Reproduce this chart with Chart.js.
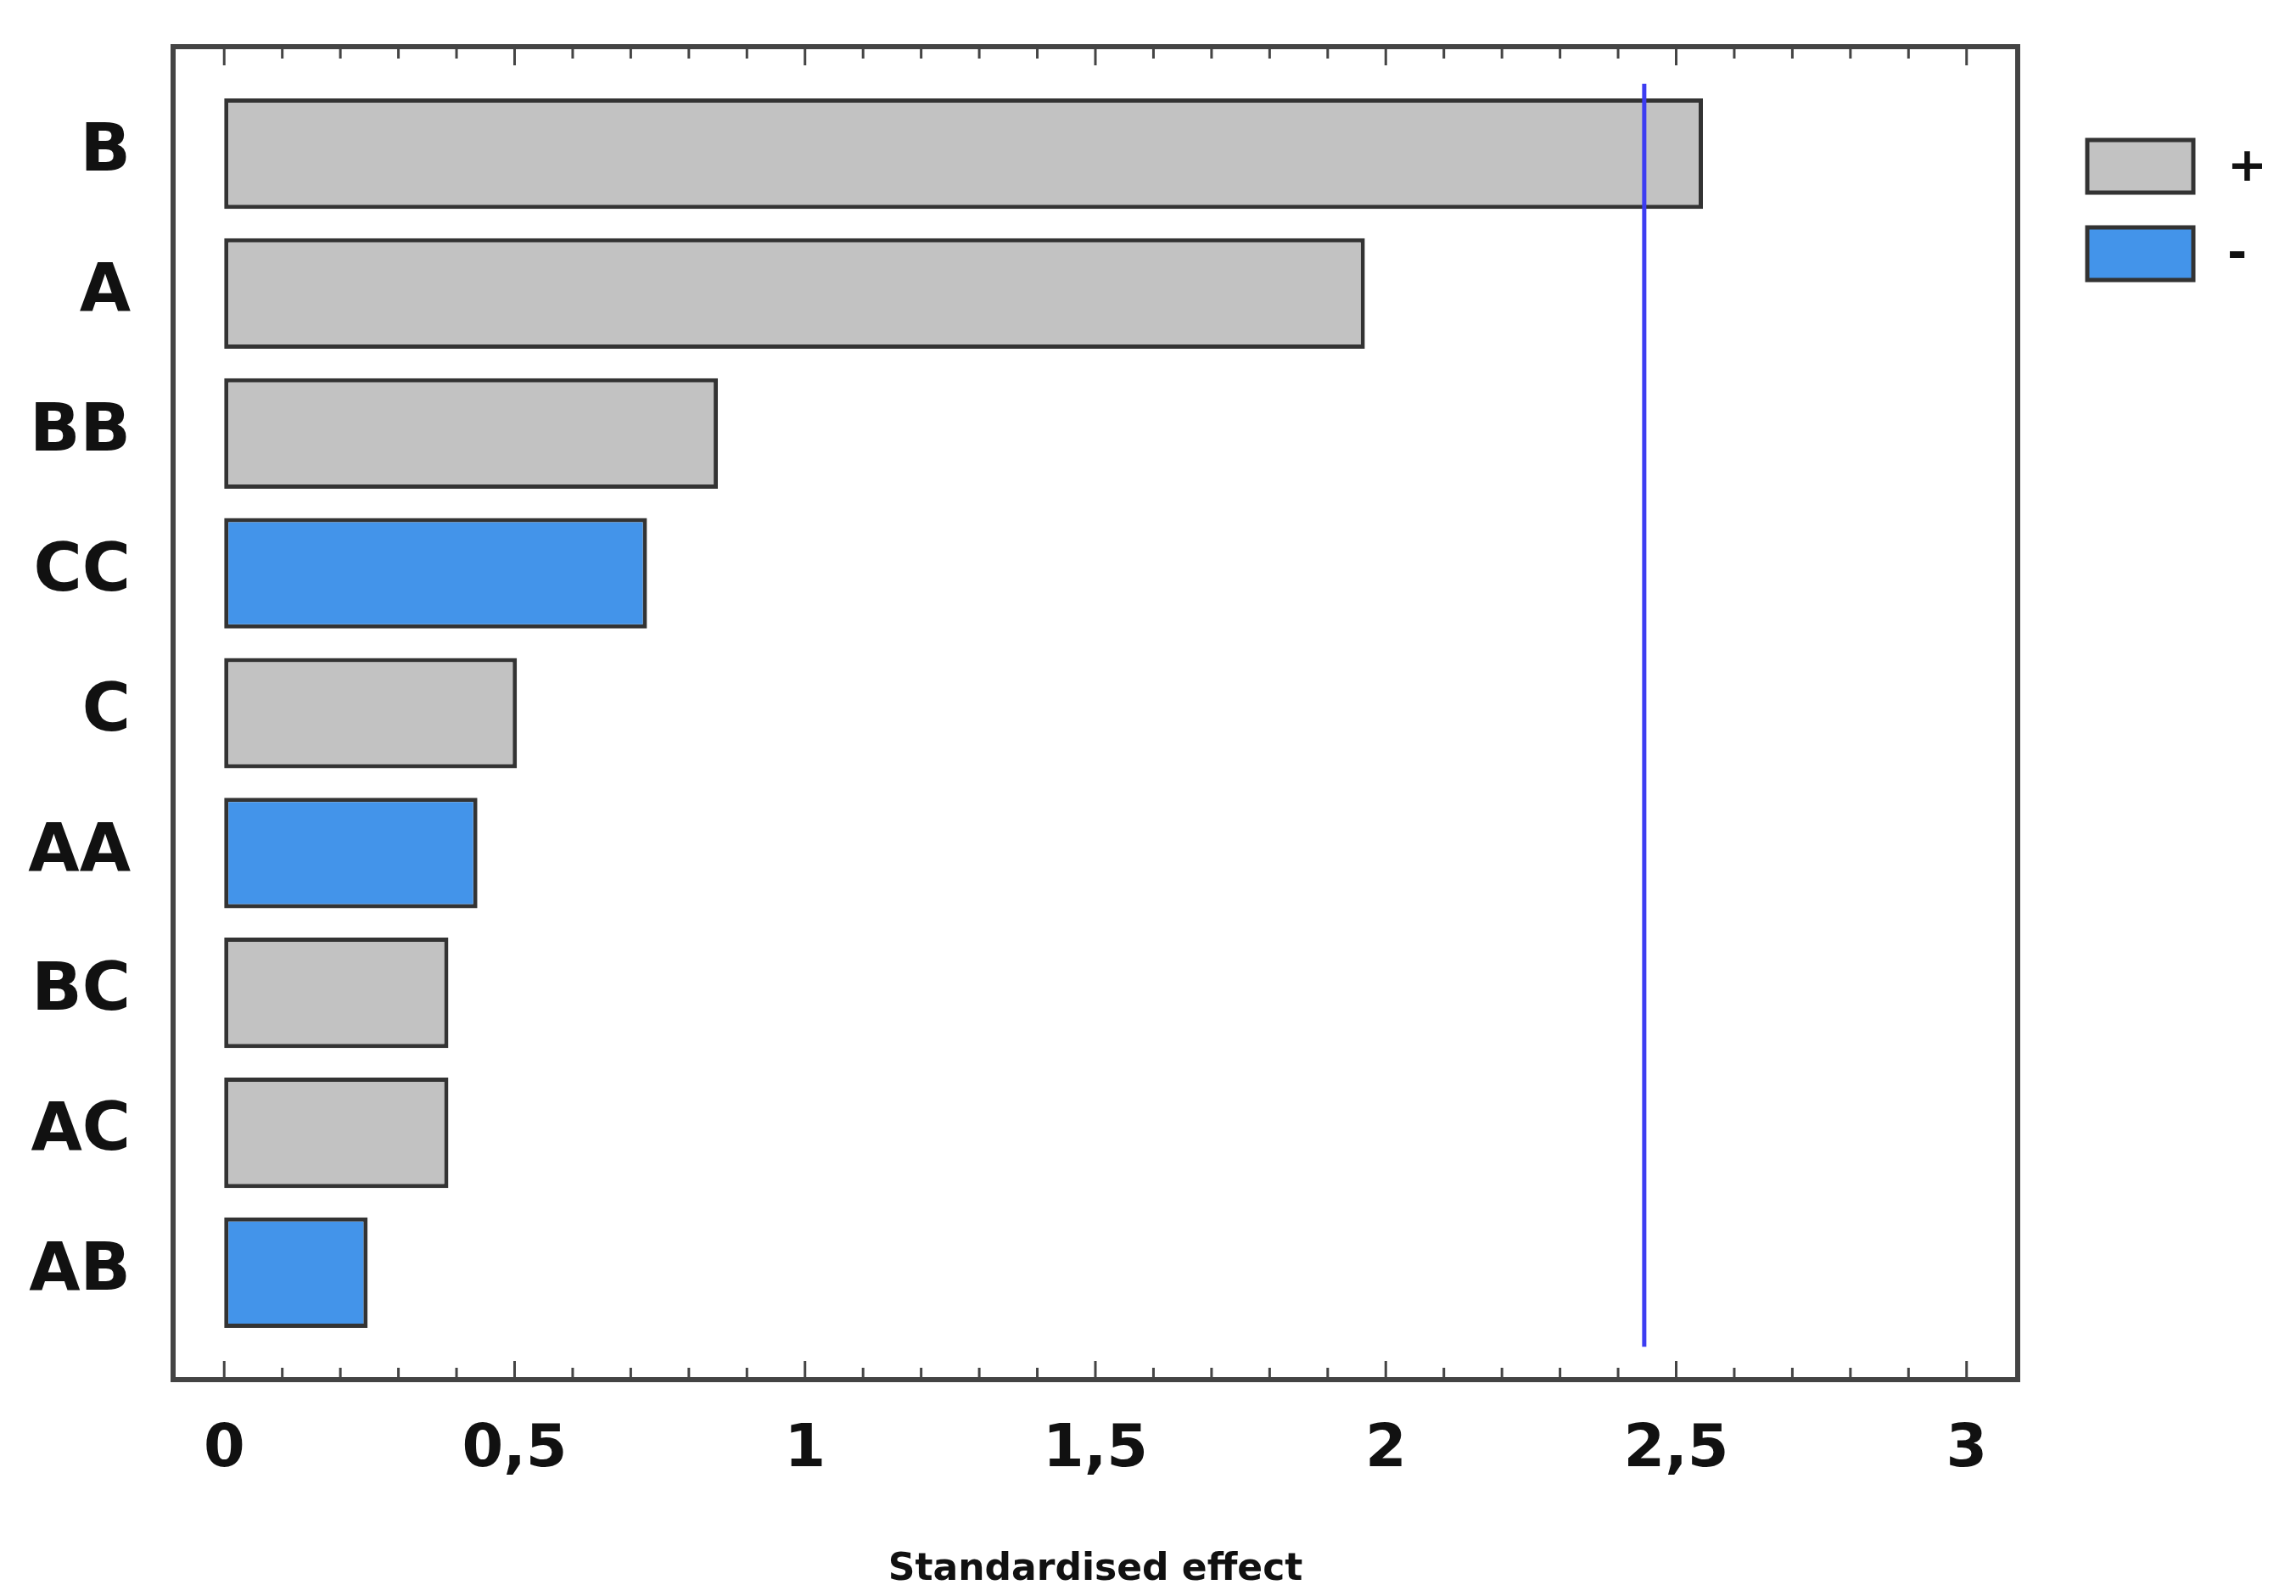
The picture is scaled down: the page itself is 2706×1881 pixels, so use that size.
<!DOCTYPE html>
<html>
<head>
<meta charset="UTF-8">
<title>Standardised effect</title>
<script src="https://cdn.jsdelivr.net/npm/chart.js"></script>
<style>
  html, body { margin: 0; padding: 0; background: #fff; }
  #wrap { width: 2706px; height: 1881px; }
</style>
</head>
<body>
<div id="wrap"><canvas id="myChart"></canvas></div>
<script>
const labels = ['B', 'A', 'BB', 'CC', 'C', 'AA', 'BC', 'AC', 'AB'];
const effects = [2.546, 1.964, 0.85, 0.728, 0.504, 0.436, 0.386, 0.386, 0.247];
const signs = ['+', '+', '+', '-', '+', '-', '+', '+', '-'];
const refValue = 2.445;
const legendItems = ['+', '-'];

const grey = '#c2c2c2', blue = '#4394ea', edge = '#333333';

const points = effects.map((v, i) => ({ x: v, y: i }));

// frame, tick marks, reference line and legend
const extras = {
  id: 'extras',
  afterDatasetsDraw(chart) {
    const ctx = chart.ctx, a = chart.chartArea;
    const xs = chart.scales.x, ys = chart.scales.y;
    ctx.save();
    // reference line
    ctx.strokeStyle = '#3d3df2';
    ctx.lineWidth = 5;
    const rx = xs.getPixelForValue(refValue);
    ctx.beginPath();
    ctx.moveTo(rx, ys.getPixelForValue(-0.5));
    ctx.lineTo(rx, ys.getPixelForValue(8.53));
    ctx.stroke();
    // frame
    ctx.strokeStyle = '#444';
    ctx.lineWidth = 6;
    ctx.strokeRect(a.left, a.top, a.right - a.left, a.bottom - a.top);
    // ticks
    ctx.lineWidth = 3;
    for (let k = 0; k <= 30; k++) {
      const px = xs.getPixelForValue(k / 10);
      const len = k % 5 === 0 ? 22 : 14;
      ctx.beginPath();
      ctx.moveTo(px, a.top); ctx.lineTo(px, a.top + len);
      ctx.moveTo(px, a.bottom); ctx.lineTo(px, a.bottom - len);
      ctx.stroke();
    }
    // legend
    ctx.font = 'bold 56px "DejaVu Sans"';
    ctx.textBaseline = 'middle';
    legendItems.forEach((s, i) => {
      const y = 165 + i * 103;
      ctx.fillStyle = s === '+' ? grey : blue;
      ctx.fillRect(2460, y, 125, 62);
      ctx.strokeStyle = edge;
      ctx.lineWidth = 5;
      ctx.strokeRect(2460, y, 125, 62);
      ctx.fillStyle = '#111';
      ctx.fillText(s, 2625, y + 33);
    });
    ctx.restore();
  }
};

new Chart(document.getElementById('myChart'), {
  type: 'bar',
  data: {
    datasets: [{
      data: points,
      backgroundColor: signs.map(s => s === '+' ? grey : blue),
      borderColor: edge,
      borderWidth: 5,
      borderSkipped: false,
      barPercentage: 0.79,
      categoryPercentage: 1
    }]
  },
  options: {
    indexAxis: 'y',
    responsive: true,
    maintainAspectRatio: false,
    animation: false,
    layout: { padding: { top: 55, right: 328, left: 0, bottom: 0 } },
    plugins: { legend: { display: false }, tooltip: { enabled: false } },
    scales: {
      x: {
        type: 'linear',
        min: -0.088, max: 3.088,
        grid: { display: false, drawTicks: false },
        border: { display: false },
        afterBuildTicks: s => { s.ticks = [0, 0.5, 1, 1.5, 2, 2.5, 3].map(v => ({ value: v })); },
        afterFit: s => { s.height = 255; },
        ticks: {
          color: '#111', padding: 42,
          font: { family: 'DejaVu Sans', weight: 'bold', size: 70 },
          callback: v => String(v).replace('.', ',')
        },
        title: {
          display: true, text: 'Standardised effect', color: '#111',
          font: { family: 'DejaVu Sans', weight: 'bold', size: 44 },
          padding: { top: 0 }
        }
      },
      y: {
        type: 'linear',
        reverse: true,
        offset: false,
        min: -0.765, max: 8.765,
        grid: { display: false, drawTicks: false },
        border: { display: false },
        afterBuildTicks: s => { s.ticks = labels.map((l, i) => ({ value: i })); },
        afterFit: s => { s.width = 204; s.paddingTop = 0; s.paddingBottom = 0; },
        ticks: {
          color: '#111', padding: 50,
          font: { family: 'DejaVu Sans', weight: 'bold', size: 78 },
          callback: v => labels[v]
        }
      }
    }
  },
  plugins: [extras]
});
</script>
</body>
</html>
